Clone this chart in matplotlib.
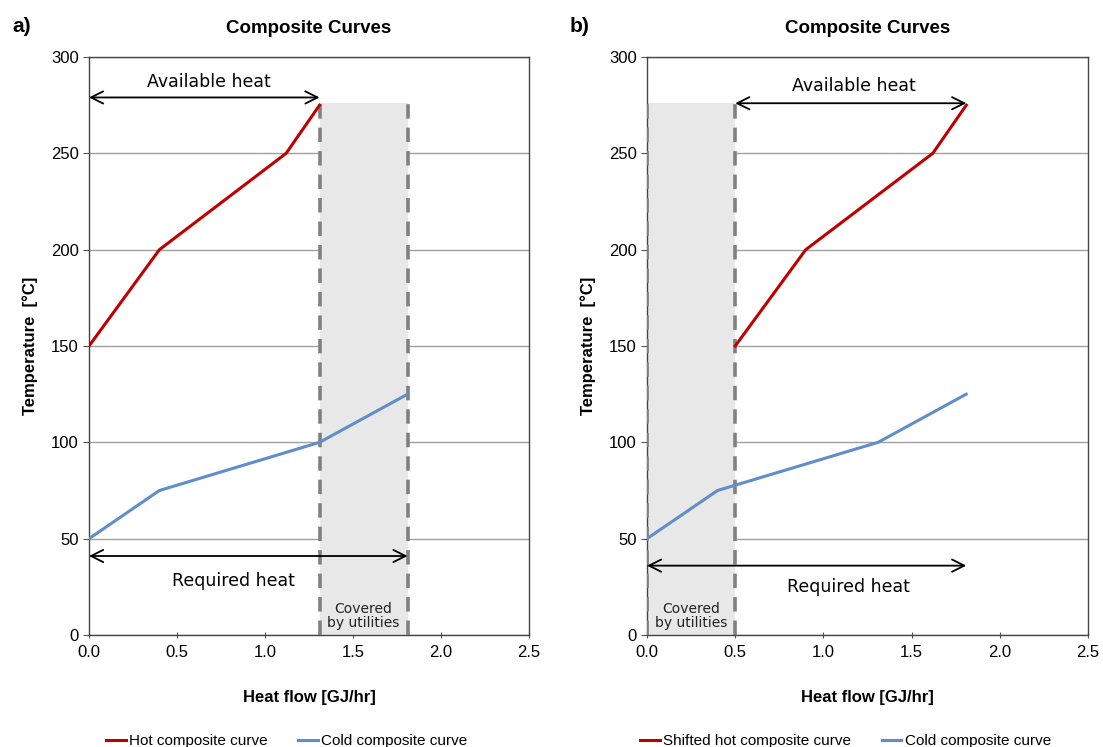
import matplotlib.pyplot as plt

# Datos
hot_x = [0.0, 0.4, 1.12, 1.31]
hot_t = [150, 200, 250, 275]
shift = 0.5
shifted_hot_x = [x + shift for x in hot_x]
cold_x = [0.0, 0.4, 1.31, 1.81]
cold_t = [50, 75, 100, 125]

util_a = (1.31, 1.81)
util_b = (0.0, 0.5)
shade_top = 276

red = '#c00000'
blue = '#5f8ec8'

plt.rcParams['font.family'] = ['Liberation Sans', 'DejaVu Sans']

fig = plt.figure(figsize=(11.03, 7.47), dpi=100)
ax_a = fig.add_axes([89 / 1103, 1 - 635 / 747, 440 / 1103, 578 / 747])
ax_b = fig.add_axes([647 / 1103, 1 - 635 / 747, 441 / 1103, 578 / 747])


def setup(ax):
    ax.set_xlim(0, 2.5)
    ax.set_ylim(0, 300)
    ax.set_xticks([0, 0.5, 1.0, 1.5, 2.0, 2.5])
    ax.set_xticklabels(['0.0', '0.5', '1.0', '1.5', '2.0', '2.5'])
    ax.set_yticks(range(0, 301, 50))
    ax.yaxis.grid(True, color='#a0a0a0', linewidth=1)
    ax.set_axisbelow(True)
    ax.tick_params(axis='both', labelsize=12, color='#555555', length=4)
    ax.tick_params(axis='x', direction='inout', pad=5)
    for s in ax.spines.values():
        s.set_color('#444444')
        s.set_linewidth(1)
    ax.set_title('Composite Curves', fontsize=13.5, fontweight='bold', pad=17)
    ax.set_xlabel('Heat flow [GJ/hr]', fontsize=12, fontweight='bold', labelpad=22)
    ax.set_ylabel('Temperature  [°C]', fontsize=12, fontweight='bold', labelpad=9)


def shade(ax, span):
    ax.fill_between(span, 0, shade_top, color='#e8e8e8', zorder=1, linewidth=0)
    for x in span:
        ax.plot([x, x], [0, shade_top], color='#808080', linewidth=2.6,
                linestyle=(0, (4, 2.5)), zorder=3)
    ax.text(sum(span) / 2, 10, 'Covered\nby utilities', ha='center', va='center',
            fontsize=10, family='DejaVu Sans', color='#222222', linespacing=1.0, zorder=4)


def arrow(ax, x0, x1, y):
    ax.annotate('', xy=(x1, y), xytext=(x0, y),
                arrowprops=dict(arrowstyle='<->', color='black', lw=1.3,
                                mutation_scale=22, shrinkA=0, shrinkB=0), zorder=5)


# Panel a)
setup(ax_a)
shade(ax_a, util_a)
ax_a.plot(hot_x, hot_t, color=red, linewidth=2.2, zorder=4, label='Hot composite curve')
ax_a.plot(cold_x, cold_t, color=blue, linewidth=2.2, zorder=4, label='Cold composite curve')
arrow(ax_a, 0, util_a[0], 279)
ax_a.text(0.68, 287, 'Available heat', ha='center', va='center', fontsize=12.5, family='DejaVu Sans')
arrow(ax_a, 0, util_a[1], 41)
ax_a.text(0.82, 28, 'Required heat', ha='center', va='center', fontsize=12.5, family='DejaVu Sans')
ax_a.legend(loc='upper center', bbox_to_anchor=(0.45, -0.148), ncol=2, frameon=False,
            fontsize=11, handlelength=1.3, handletextpad=0.2, columnspacing=2.0)

# Panel b)
setup(ax_b)
shade(ax_b, util_b)
ax_b.plot(shifted_hot_x, hot_t, color=red, linewidth=2.2, zorder=4, label='Shifted hot composite curve')
ax_b.plot(cold_x, cold_t, color=blue, linewidth=2.2, zorder=4, label='Cold composite curve')
arrow(ax_b, util_b[1], shifted_hot_x[-1], 276)
ax_b.text(1.17, 285, 'Available heat', ha='center', va='center', fontsize=12.5, family='DejaVu Sans')
arrow(ax_b, 0, cold_x[-1], 36)
ax_b.text(1.14, 25, 'Required heat', ha='center', va='center', fontsize=12.5, family='DejaVu Sans')
ax_b.legend(loc='upper center', bbox_to_anchor=(0.45, -0.148), ncol=2, frameon=False,
            fontsize=11, handlelength=1.3, handletextpad=0.2, columnspacing=2.0)

fig.text(12 / 1103, 1 - 27 / 747, 'a)', fontsize=15, fontweight='bold', va='center')
fig.text(570 / 1103, 1 - 27 / 747, 'b)', fontsize=15, fontweight='bold', va='center')

fig.savefig('out.png', dpi=100)
